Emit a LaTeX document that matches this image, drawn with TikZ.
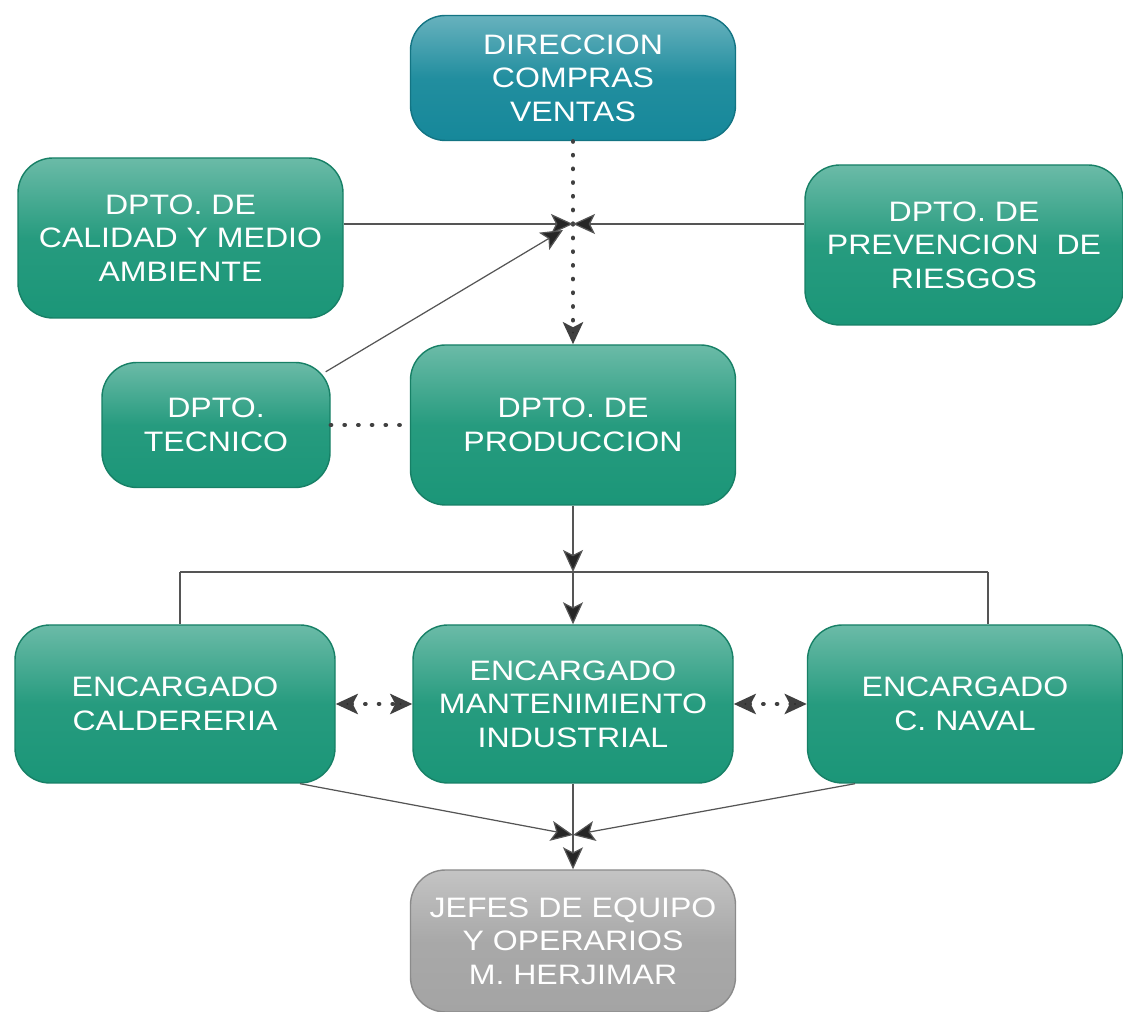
\documentclass[tikz,border=0pt]{standalone}
\usepackage{fontspec}
\newfontfamily\boxfont{Liberation Sans}[FakeStretch=1.14]
\usepackage{xcolor}
\usetikzlibrary{positioning, shapes, arrows.meta, calc}

\definecolor{tealbox}{HTML}{16889A}
\definecolor{greenbox}{HTML}{1B9678}
\definecolor{greybox}{HTML}{A4A4A4}
\definecolor{linegrey}{HTML}{555555}

\tikzset{
  orgbox/.style={rectangle, rounded corners=0.7cm, draw=#1!85!black, line width=0.8pt,
    top color=#1!65!white, bottom color=#1, middle color=#1!95!white,
    text=white, align=center, font=\boxfont\fontsize{16}{19}\selectfont,
    minimum width=6.5cm, minimum height=3.2cm, inner sep=2pt},
  link/.style={draw=linegrey, line width=0.7pt},
  tipend/.style={-{Stealth[length=0.44cm, width=0.4cm, inset=0.1cm, fill=black!85]}},
  tipboth/.style={{Stealth[length=0.44cm, width=0.4cm, inset=0.1cm, fill=black!85]}-{Stealth[length=0.44cm, width=0.4cm, inset=0.1cm, fill=black!85]}},
  dots/.style={draw=black!75, line width=2.4pt, line cap=round, dash pattern=on 0.3pt off 7.5pt}
}

\begin{document}
\begin{tikzpicture}

\useasboundingbox (0,0) rectangle (22.46,20.24);

% Top: direccion and departments
\node[orgbox=tealbox, minimum height=2.5cm] (direccion) at (11.46, 18.68) {DIRECCION\\COMPRAS\\VENTAS};
\node[orgbox=greenbox] (calidad) at (3.61, 15.48) {DPTO. DE\\CALIDAD Y MEDIO\\AMBIENTE};
\node[orgbox=greenbox, minimum width=6.36cm] (prevencion) at (19.28, 15.34) {DPTO. DE\\PREVENCION\ \ DE\\RIESGOS};
\node[orgbox=greenbox, minimum width=4.56cm, minimum height=2.5cm] (tecnico) at (4.32, 11.74) {DPTO.\\TECNICO};
\node[orgbox=greenbox] (produccion) at (11.46, 11.74) {DPTO. DE\\PRODUCCION};

% Encargados row
\node[orgbox=greenbox, minimum width=6.4cm, minimum height=3.16cm] (caldereria) at (3.5, 6.16) {ENCARGADO\\CALDERERIA};
\node[orgbox=greenbox, minimum width=6.4cm, minimum height=3.16cm] (mantenimiento) at (11.46, 6.16) {ENCARGADO\\MANTENIMIENTO\\INDUSTRIAL};
\node[orgbox=greenbox, minimum width=6.3cm, minimum height=3.16cm] (naval) at (19.3, 6.16) {ENCARGADO\\C. NAVAL};

% Bottom
\node[orgbox=greybox, minimum height=2.84cm] (jefes) at (11.46, 1.42) {JEFES DE EQUIPO\\Y OPERARIOS\\M. HERJIMAR};

% Junction points
\coordinate (jtop) at (11.46, 15.76);
\coordinate (bus) at (11.46, 8.8);
\coordinate (busleft) at (3.6, 8.8);
\coordinate (busright) at (19.76, 8.8);
\coordinate (jbottom) at (11.46, 3.54);

% Top connectors
\draw[dots] (direccion.south) -- (jtop);
\draw[dots, tipend] (jtop) -- (produccion.north);
\draw[link, tipend] (calidad.east |- jtop) -- (jtop);
\draw[link, tipend] (prevencion.west |- jtop) -- (jtop);
\draw[link, tipend] ($(tecnico.north east)+(-0.1,-0.2)$) -- ($(jtop)+(-0.2,-0.12)$);
\draw[dots] (tecnico.east) -- (produccion.west);

% Produccion to encargados
\draw[link, tipend] (produccion.south) -- (bus);
\draw[link] (busleft) -- (busright);
\draw[link] (busleft) -- (caldereria.north -| busleft);
\draw[link] (busright) -- (naval.north -| busright);
\draw[link, tipend] (bus) -- (mantenimiento.north);

% Between encargados
\draw[dots, tipboth] (caldereria.east) -- (mantenimiento.west);
\draw[dots, tipboth] (mantenimiento.east) -- (naval.west);

% Encargados to jefes
\draw[link, tipend] ($(caldereria.south)+(2.5,0)$) -- (jbottom);
\draw[link, tipend] ($(naval.south)+(-2.2,0)$) -- (jbottom);
\draw[link, tipend] (mantenimiento.south) -- (jefes.north);

\end{tikzpicture}
\end{document}
